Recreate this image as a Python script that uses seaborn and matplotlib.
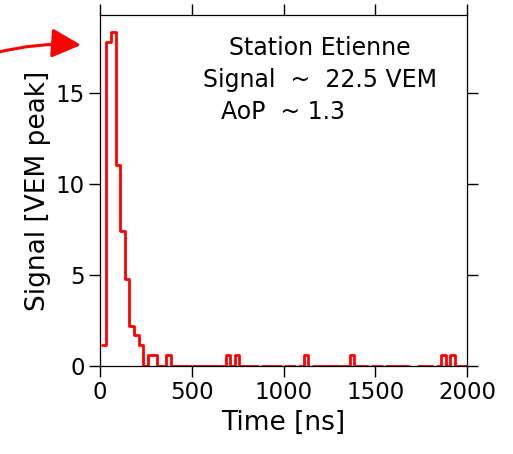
import numpy as np
import pandas as pd
import matplotlib
matplotlib.use("Agg")
import matplotlib.pyplot as plt
import seaborn as sns

# ---- data ----
bin_start_ns = list(range(10, 2010, 25))  # 25 ns FADC bins
signal_vem = [
    1.15, 17.8, 18.35, 11.05, 7.4, 4.8, 2.2, 1.7, 1.15, 0.0,
    0.6, 0.6, 0.0, 0.0, 0.6, 0.0, 0.0, 0.0, 0.0, 0.0,
    0.0, 0.0, 0.0, 0.0, 0.0, 0.0, 0.0, 0.6, 0.0, 0.6,
    0.0, 0.0, 0.0, 0.0, -0.1, 0.0, 0.0, 0.0, 0.0, -0.1,
    0.0, 0.0, -0.1, 0.0, 0.6, -0.1, 0.0, 0.0, 0.0, 0.0,
    0.0, 0.0, 0.0, 0.0, 0.6, 0.0, 0.0, 0.0, -0.1, 0.0,
    0.0, -0.1, 0.0, 0.0, 0.0, 0.0, 0.0, -0.1, -0.1, 0.0,
    0.0, 0.0, -0.1, 0.0, 0.6, 0.0, 0.6, 0.0, 0.0, 0.0,
]
bin_width_ns = 25
x_ticks = [0, 500, 1000, 1500, 2000]
y_ticks = [0, 5, 10, 15]
info_lines = ["Station Etienne", "Signal  ~  22.5 VEM", "AoP  ~ 1.3"]

df = pd.DataFrame({"t": np.array(bin_start_ns) + bin_width_ns / 2, "s": signal_vem})
edges = list(bin_start_ns) + [bin_start_ns[-1] + bin_width_ns]

sns.set_style("ticks")
plt.rcParams["font.family"] = ["DejaVu Sans"]
plt.rcParams["text.color"] = "black"
plt.rcParams["axes.labelcolor"] = "black"
plt.rcParams["xtick.color"] = "black"
plt.rcParams["ytick.color"] = "black"

fig = plt.figure(figsize=(5.13, 4.54), dpi=100)
ax = fig.add_axes([100 / 513, 1 - 366 / 454, 367 / 513, 351 / 454])

sns.histplot(data=df, x="t", weights="s", bins=edges, element="step",
             fill=False, color="#ff0000", linewidth=2.0, ax=ax)

ax.set_xlim(0, 2000)
ax.set_ylim(0, 19.3)
ax.set_xticks(x_ticks)
ax.set_yticks(y_ticks)
ax.set_xlabel("Time [ns]", fontsize=19, labelpad=4)
ax.set_ylabel("Signal [VEM peak]", fontsize=19, labelpad=3)
ax.tick_params(axis="both", which="major", direction="out", length=8, width=1,
               labelsize=16.5, top=True, right=True, labeltop=False, labelright=False,
               color="black", labelcolor="black", pad=3)
for sp in ax.spines.values():
    sp.set_visible(True)
    sp.set_color("black")
    sp.set_linewidth(0.9)

xs = [229, 203, 221]
ys = [48, 80, 112]
for txt, xp, yp in zip(info_lines, xs, ys):
    ax.text((xp - 100) / 367, (366 - yp) / 351, txt, transform=ax.transAxes,
            ha="left", va="center", fontsize=17, color="black")

ax.annotate("", xy=(81, 454 - 45), xytext=(-5, 454 - 53),
            xycoords="figure pixels", textcoords="figure pixels",
            arrowprops=dict(arrowstyle="-|>,head_length=0.9,head_width=0.45",
                            mutation_scale=20, color="#ff0000", lw=2.2,
                            connectionstyle="arc3,rad=-0.08", shrinkA=0, shrinkB=0),
            annotation_clip=False)

fig.savefig("out.png", dpi=100)
